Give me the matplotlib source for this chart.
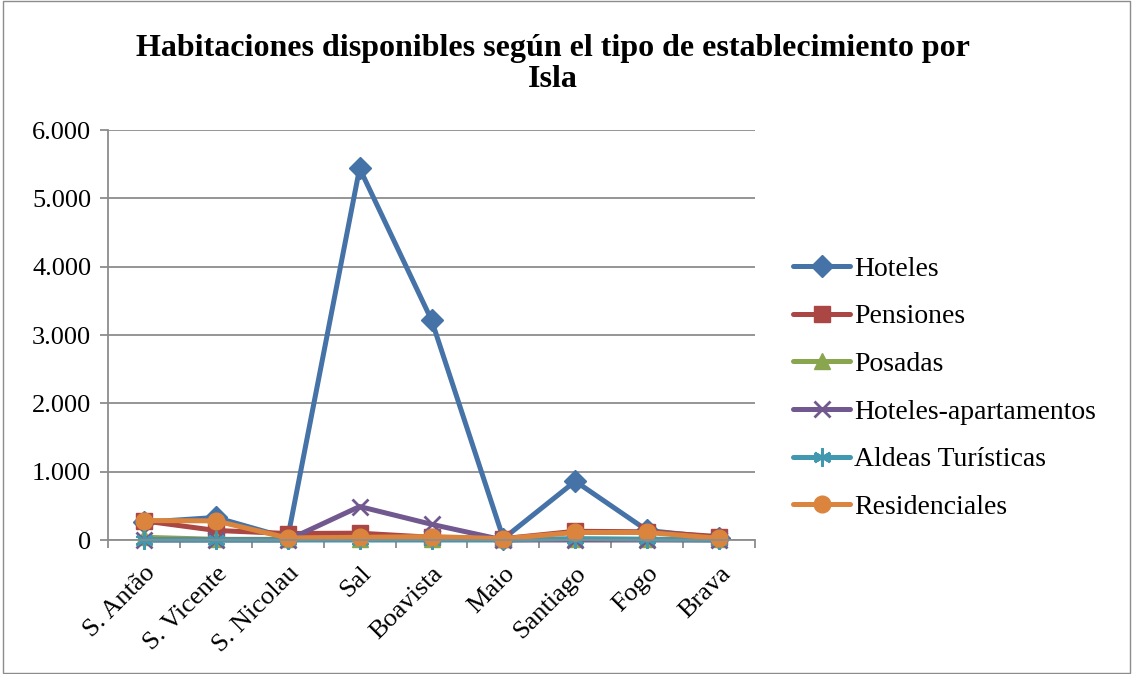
import matplotlib.pyplot as plt
from matplotlib.ticker import FuncFormatter, MultipleLocator
from matplotlib.patches import Rectangle

# ---- data ----
islas = ["S. Antão", "S. Vicente", "S. Nicolau", "Sal", "Boavista",
         "Maio", "Santiago", "Fogo", "Brava"]
hoteles = [260, 330, 30, 5440, 3220, 20, 860, 140, 30]
pensiones = [280, 140, 95, 100, 40, 20, 128, 120, 50]
posadas = [40, 10, 10, 10, 10, 10, 10, 10, 10]
hoteles_apart = [0, 0, 0, 490, 230, 0, 0, 0, 0]
aldeas = [0, 0, 0, 0, 0, 0, 20, 10, 0]
residenciales = [285, 280, 30, 40, 50, 20, 110, 110, 25]
# ---------------------------------

series = [
    ("Hoteles", hoteles, "#4572A7", "D", 11),
    ("Pensiones", pensiones, "#AA4643", "s", 11),
    ("Posadas", posadas, "#89A54E", "^", 11),
    ("Hoteles-apartamentos", hoteles_apart, "#71588F", "x", 12),
    ("Aldeas Turísticas", aldeas, "#4198AF", (6, 2, 0), 13),
    ("Residenciales", residenciales, "#DB843D", "o", 12),
]

plt.rcParams["font.family"] = "Liberation Serif"

fig = plt.figure(figsize=(11.33, 6.74), dpi=100)
ax = fig.add_axes([0.0953, 0.1988, 0.5711, 0.6083])

x = list(range(len(islas)))
for name, vals, col, mk, ms in series:
    ax.plot(x, vals, color=col, lw=3.6, marker=mk, markersize=ms,
            markeredgewidth=2 if mk in ("x", (6, 2, 0)) else 1,
            markeredgecolor=col, markerfacecolor=col, label=name,
            solid_joinstyle="round", solid_capstyle="round", clip_on=False)

ax.set_xlim(-0.5, len(islas) - 0.5)
ax.set_ylim(0, 6000)
ax.yaxis.set_major_locator(MultipleLocator(1000))
ax.yaxis.set_major_formatter(FuncFormatter(lambda v, p: f"{int(v):,}".replace(",", ".")))
ax.grid(axis="y", color="#8c8c8c", lw=1.3)
ax.set_axisbelow(True)

ax.set_xticks(x)
ax.set_xticklabels(islas, rotation=45, ha="right", rotation_mode="anchor", fontsize=19)
ax.set_xticks([i - 0.5 for i in range(len(islas) + 1)], minor=True)
ax.tick_params(axis="x", which="major", length=0, pad=16)
ax.tick_params(axis="x", which="minor", length=6, color="#8c8c8c", width=1.3)
ax.tick_params(axis="y", labelsize=19, length=6, color="#8c8c8c", width=1.3, pad=6)

for s in ("top", "right"):
    ax.spines[s].set_visible(False)
for s in ("left", "bottom"):
    ax.spines[s].set_color("#8c8c8c")
    ax.spines[s].set_linewidth(1.3)

fig.text(0.488, 0.905, "Habitaciones disponibles según el tipo de establecimiento por\nIsla",
         ha="center", va="center", fontsize=23, fontweight="bold", linespacing=1.1)

leg = fig.legend(loc="center left", bbox_to_anchor=(0.700, 0.424), frameon=False,
                 fontsize=20, handlelength=2.05, labelspacing=0.8, handletextpad=0.15,
                 borderpad=0, borderaxespad=0)

fig.patches.append(Rectangle((0.003, 0.002), 0.994, 0.996, transform=fig.transFigure,
                             fill=False, edgecolor="#8c8c8c", lw=1))

fig.savefig("out.png", dpi=100)
